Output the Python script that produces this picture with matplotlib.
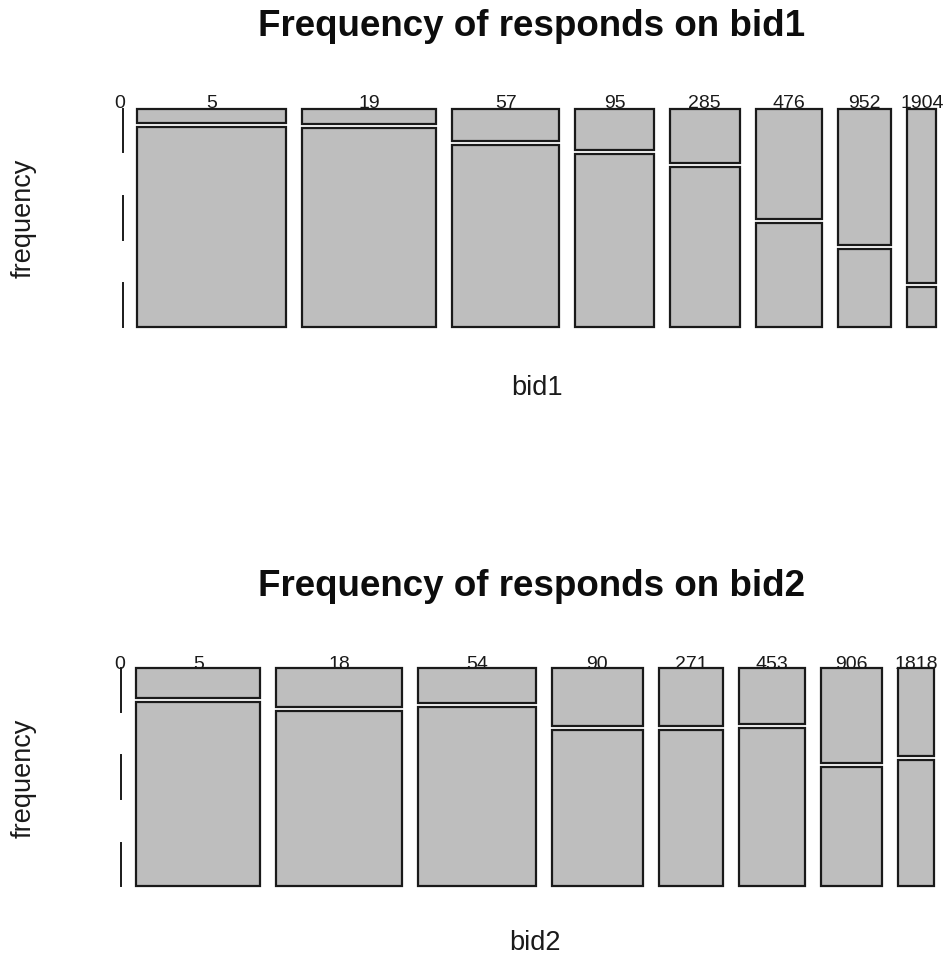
import matplotlib
matplotlib.use("Agg")
import matplotlib.pyplot as plt
from matplotlib.patches import Rectangle
from matplotlib.lines import Line2D

plt.rcParams['font.family'] = ['Liberation Sans', 'DejaVu Sans']

# ---- data (estimated counts read from the mosaic) ----
bid1_levels = ["5", "19", "57", "95", "285", "476", "952", "1904"]
bid1_top = [7.3, 6.9, 11.6, 11.0, 13.0, 24.8, 24.9, 17.1]      # upper cell
bid1_bottom = [100.7, 91.1, 66.4, 46.0, 38.0, 23.2, 14.1, 3.9]  # lower cell

bid2_levels = ["5", "18", "54", "90", "271", "453", "906", "1818"]
bid2_top = [12.5, 16.8, 14.1, 17.9, 12.8, 12.6, 19.8, 10.7]
bid2_bottom = [78.0, 74.7, 71.9, 48.1, 34.2, 35.4, 24.7, 15.3]

titles = ["Frequency of responds on bid1", "Frequency of responds on bid2"]
xlabels = ["bid1", "bid2"]
ylabel = "frequency"
corner_label = "0"

W, H = 949, 962
fig = plt.figure(figsize=(W / 100, H / 100), dpi=100)
fig.patch.set_facecolor("white")

def fx(px):
    return px / W

def fy(py):
    return 1 - py / H

FILL = "#bebebe"
EDGE = "#1a1a1a"
TXT = "#1a1a1a"

panels = [
    dict(levels=bid1_levels, top=bid1_top, bottom=bid1_bottom,
         box=(137.2, 109.8, 936.2, 327.7), title_base=36, xlab_base=395,
         lab_base=108.5, ylab_x=24, dash_x=122.5, corner_x=120),
    dict(levels=bid2_levels, top=bid2_top, bottom=bid2_bottom,
         box=(136.2, 669.0, 933.8, 887.2), title_base=596, xlab_base=950,
         lab_base=669.0, ylab_x=24, dash_x=120.8, corner_x=120),
]

for i, p in enumerate(panels):
    x0, y0, x1, y1 = p["box"]
    ax = fig.add_axes([fx(x0), fy(y1), fx(x1) - fx(x0), fy(y0) - fy(y1)])
    ax.set_xlim(0, 1)
    ax.set_ylim(1, 0)
    ax.axis("off")

    n = len(p["levels"])
    hgap = 0.02
    vgap = 0.018
    totals = [a + b for a, b in zip(p["top"], p["bottom"])]
    grand = sum(totals)
    avail_w = 1 - hgap * (n - 1)
    avail_h = 1 - vgap
    x = 0.0
    for lev, t, b, tot in zip(p["levels"], p["top"], p["bottom"], totals):
        w = tot / grand * avail_w
        ht = t / tot * avail_h
        hb = b / tot * avail_h
        ax.add_patch(Rectangle((x, 0), w, ht, facecolor=FILL, edgecolor=EDGE,
                               linewidth=1.6, clip_on=False))
        ax.add_patch(Rectangle((x, ht + vgap), w, hb, facecolor=FILL,
                               edgecolor=EDGE, linewidth=1.6, clip_on=False))
        cx = fx(x0) + (x + w / 2) * (fx(x1) - fx(x0))
        fig.text(cx, fy(p["lab_base"]), lev, ha="center", va="baseline",
                 fontsize=14, color=TXT)
        x += w + hgap

    # dashed left axis line
    for s0, s1 in [(0.0, 0.2), (0.4, 0.6), (0.8, 1.0)]:
        fig.add_artist(Line2D([fx(p["dash_x"]), fx(p["dash_x"])],
                              [fy(y0 + s0 * (y1 - y0)), fy(y0 + s1 * (y1 - y0))],
                              color=EDGE, linewidth=1.4))
    fig.text(fx(p["corner_x"]), fy(p["lab_base"]), corner_label, ha="center",
             va="baseline", fontsize=14, color=TXT)

    fig.text(fx(532), fy(p["title_base"]), titles[i], ha="center", va="baseline",
             fontsize=26.5, fontweight="bold", color="#0d0d0d")
    fig.text(fx((x0 + x1) / 2), fy(p["xlab_base"]), xlabels[i], ha="center",
             va="baseline", fontsize=19.5, color=TXT)
    fig.text(fx(p["ylab_x"]), fy((y0 + y1) / 2), ylabel, ha="center",
             va="center", rotation=90, fontsize=19.5, color=TXT)

fig.savefig("out.png", dpi=100, facecolor="white")
